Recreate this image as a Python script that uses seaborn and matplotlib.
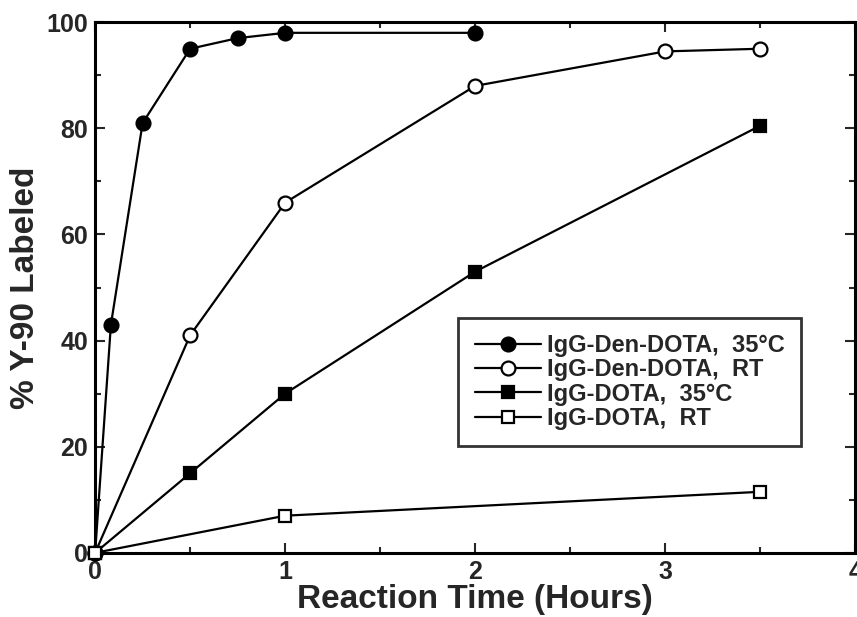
import matplotlib
matplotlib.use('Agg')
import matplotlib.pyplot as plt
import seaborn as sns
from matplotlib.ticker import MultipleLocator

# Reaction time (hours) and % Y-90 labeled
den_35_time = [0, 0.083, 0.25, 0.5, 0.75, 1, 2]
den_35_pct = [0, 43, 81, 95, 97, 98, 98]

den_rt_time = [0, 0.5, 1, 2, 3, 3.5]
den_rt_pct = [0, 41, 66, 88, 94.5, 95]

dota_35_time = [0, 0.5, 1, 2, 3.5]
dota_35_pct = [0, 15, 30, 53, 80.5]

dota_rt_time = [0, 1, 3.5]
dota_rt_pct = [0, 7, 11.5]

series_labels = ['IgG-Den-DOTA,  35°C', 'IgG-Den-DOTA,  RT',
                 'IgG-DOTA,  35°C', 'IgG-DOTA,  RT']

sns.set_style('ticks')
plt.rcParams['font.family'] = ['Liberation Sans', 'DejaVu Sans']
plt.rcParams['font.weight'] = 'bold'

fig = plt.figure(figsize=(8.57, 6.17), dpi=100)
ax = fig.add_axes([0.111, 0.104, 0.887, 0.860])

series = [
    (den_35_time, den_35_pct, 'o', 'black', 10),
    (den_rt_time, den_rt_pct, 'o', 'white', 10),
    (dota_35_time, dota_35_pct, 's', 'black', 8.5),
    (dota_rt_time, dota_rt_pct, 's', 'white', 8.5),
]
for (t, p, m, fc, ms), lab in zip(series, series_labels):
    sns.lineplot(x=t, y=p, ax=ax, color='black', linewidth=1.6, marker=m,
                 markersize=ms, markerfacecolor=fc, markeredgecolor='black',
                 markeredgewidth=1.6, label=lab, clip_on=False, zorder=3)

ax.set_xlim(0, 4)
ax.set_ylim(0, 100)
ax.xaxis.set_major_locator(MultipleLocator(1))
ax.xaxis.set_minor_locator(MultipleLocator(0.5))
ax.yaxis.set_major_locator(MultipleLocator(20))
ax.yaxis.set_minor_locator(MultipleLocator(10))
ax.tick_params(which='both', direction='in', top=True, right=True, width=1.5)
ax.tick_params(which='major', length=7, labelsize=18, pad=5)
ax.tick_params(which='minor', length=4)
for lbl in ax.get_xticklabels() + ax.get_yticklabels():
    lbl.set_fontweight('bold')
for s in ax.spines.values():
    s.set_linewidth(2.2)
    s.set_color('black')

ax.set_xlabel('Reaction Time (Hours)', fontsize=24, fontweight='bold', labelpad=0)
ax.set_ylabel('% Y-90 Labeled', fontsize=24, fontweight='bold', labelpad=4)

leg = ax.legend(loc='upper left', bbox_to_anchor=(0.478, 0.443), borderaxespad=0,
                fontsize=17, handlelength=2.8, handletextpad=0.25,
                labelspacing=0.05, fancybox=False, frameon=True,
                borderpad=0.7)
leg.get_frame().set_edgecolor('black')
leg.get_frame().set_linewidth(2)
for txt in leg.get_texts():
    txt.set_fontweight('bold')

fig.savefig('out.png', dpi=100)
